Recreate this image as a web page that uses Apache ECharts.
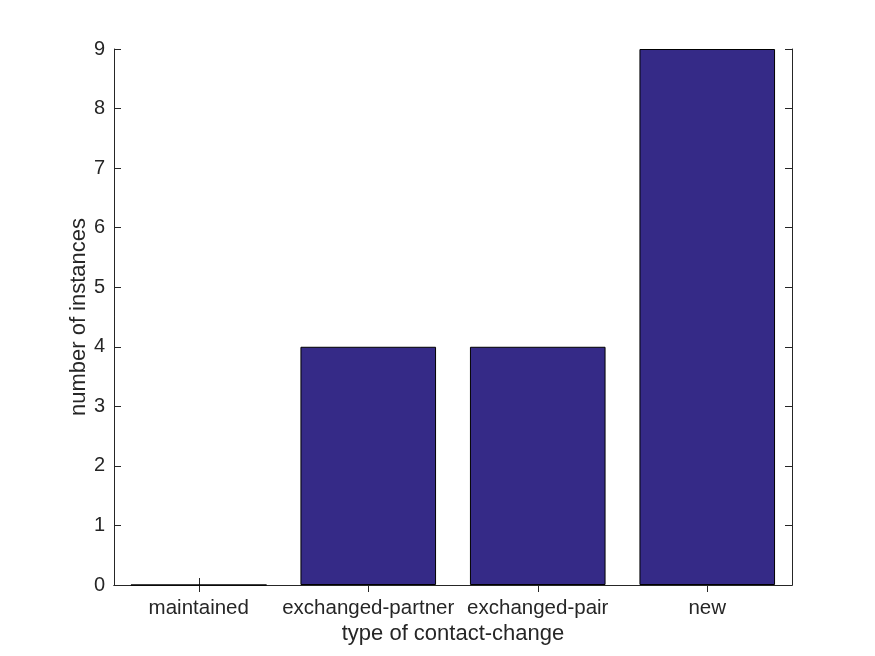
<!DOCTYPE html>
<html><head><meta charset="utf-8">
<script src="https://cdn.jsdelivr.net/npm/echarts@6/dist/echarts.min.js"></script>
<style>html,body{margin:0;padding:0;background:#fff}#c{width:875px;height:656px}</style>
</head><body><div id="c"></div>
<script>
const categories = ['maintained', 'exchanged-partner', 'exchanged-pair', 'new'];
const counts = [0, 4, 4, 9];
const yTicks = [0, 1, 2, 3, 4, 5, 6, 7, 8, 9];

const chart = echarts.init(document.getElementById('c'), null, {renderer: 'canvas'});
const font = 'Arial, "Liberation Sans", Helvetica, sans-serif';
const lineStyle = {color: '#262626', width: 1};
chart.setOption({
  animation: false,
  backgroundColor: '#fff',
  grid: {left: 114, right: 83, top: 49, bottom: 71, containLabel: false},
  xAxis: [{
    type: 'category', data: categories, position: 'bottom',
    axisLine: {show: true, lineStyle},
    axisTick: {show: true, inside: true, alignWithLabel: true, length: 7, lineStyle},
    axisLabel: {color: '#262626', fontSize: 20.5, fontFamily: font, margin: 13, interval: 0},
    name: 'type of contact-change', nameLocation: 'middle', nameGap: 38, nameMoveOverlap: false,
    nameTextStyle: {color: '#262626', fontSize: 22, fontFamily: font},
    splitLine: {show: false}
  }, {
    type: 'category', data: categories, position: 'top',
    axisLine: {show: true, lineStyle},
    axisTick: {show: true, inside: true, alignWithLabel: true, length: 7, lineStyle},
    axisLabel: {show: false}, splitLine: {show: false}
  }],
  yAxis: [{
    type: 'value', min: 0, max: 9, interval: 1, position: 'left',
    axisLine: {show: true, lineStyle},
    axisTick: {show: true, inside: true, length: 7, lineStyle},
    axisLabel: {color: '#262626', fontSize: 20, fontFamily: font, margin: 9,
      formatter: v => yTicks.includes(v) ? String(v) : ''},
    name: 'number of instances', nameLocation: 'middle', nameGap: 24, nameRotate: 90, nameMoveOverlap: false,
    nameTextStyle: {color: '#262626', fontSize: 22, fontFamily: font},
    splitLine: {show: false}
  }, {
    type: 'value', min: 0, max: 9, interval: 1, position: 'right',
    axisLine: {show: true, lineStyle},
    axisTick: {show: true, inside: true, length: 7, lineStyle},
    axisLabel: {show: false}, splitLine: {show: false}
  }],
  series: [{
    type: 'bar', data: counts, xAxisIndex: 0, yAxisIndex: 0,
    barWidth: '80%',
    itemStyle: {color: '#352a87', borderColor: '#000', borderWidth: 1}
  }]
});
</script></body></html>
